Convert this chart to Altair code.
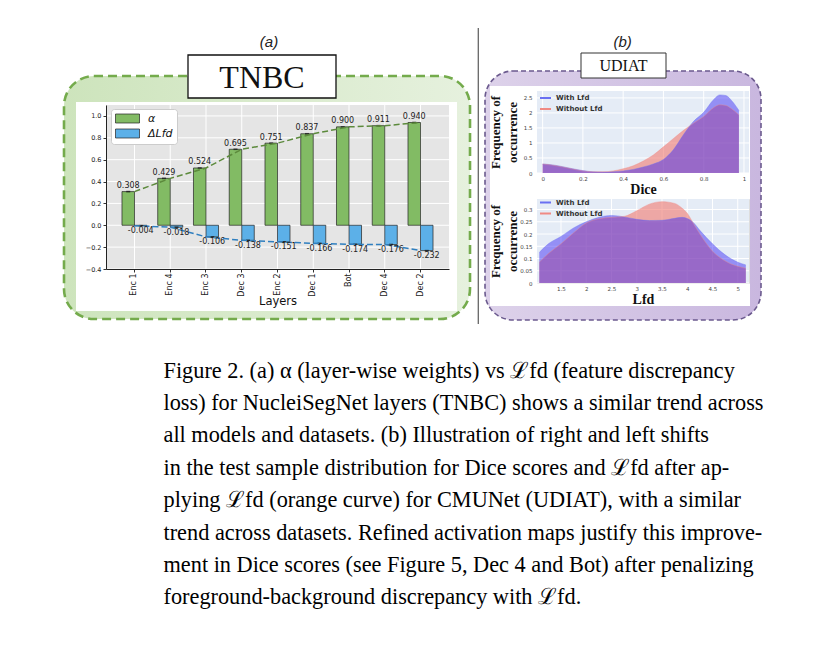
import altair as alt
import pandas as pd

# ---------------- data ----------------
layers = ["Enc 1", "Enc 4", "Enc 3", "Dec 3", "Enc 2", "Dec 1", "Bot", "Dec 4", "Dec 2"]
alpha_vals = [0.308, 0.429, 0.524, 0.695, 0.751, 0.837, 0.900, 0.911, 0.940]
dlfd_vals = [-0.004, -0.018, -0.106, -0.138, -0.151, -0.166, -0.174, -0.176, -0.232]
series_names = ["α", "ΔLfd"]
a_yticks = [-0.4, -0.2, 0.0, 0.2, 0.4, 0.6, 0.8, 1.0]

curve_names = ["With Lfd", "Without Lfd"]
dice_x = [0.0, 0.05, 0.1, 0.15, 0.2, 0.25, 0.3, 0.35, 0.4, 0.45, 0.5, 0.55, 0.6, 0.65, 0.7,
          0.75, 0.8, 0.85, 0.88, 0.91, 0.94, 0.975]
dice_with = [0.30, 0.27, 0.21, 0.14, 0.08, 0.04, 0.03, 0.04, 0.07, 0.12, 0.20, 0.30, 0.45, 0.78,
             1.28, 1.72, 2.02, 2.45, 2.60, 2.58, 2.40, 2.08]
dice_without = [0.30, 0.26, 0.20, 0.13, 0.07, 0.04, 0.04, 0.07, 0.14, 0.24, 0.40, 0.60, 0.87, 1.15,
                1.42, 1.66, 1.88, 2.18, 2.27, 2.25, 2.13, 1.93]
dice_ticks = [0, 0.2, 0.4, 0.6, 0.8, 1]
dice_yticks = [0, 0.5, 1, 1.5, 2, 2.5]

lfd_x = [1.07, 1.25, 1.5, 1.75, 2.0, 2.25, 2.5, 2.75, 3.0, 3.25, 3.5, 3.75, 3.9, 4.0, 4.13,
         4.25, 4.5, 4.75, 5.0, 5.16]
lfd_with = [0.125, 0.16, 0.19, 0.225, 0.25, 0.268, 0.276, 0.27, 0.26, 0.255, 0.256, 0.264, 0.268,
            0.263, 0.245, 0.215, 0.16, 0.115, 0.085, 0.074]
lfd_without = [0.085, 0.12, 0.16, 0.205, 0.245, 0.262, 0.268, 0.272, 0.295, 0.322, 0.332, 0.325,
               0.305, 0.285, 0.24, 0.20, 0.13, 0.09, 0.068, 0.06]
lfd_ticks = [1.5, 2, 2.5, 3, 3.5, 4, 4.5, 5]
lfd_yticks = [0, 0.05, 0.1, 0.15, 0.2, 0.25, 0.3]

caption_lines = [
    "Figure 2.  (a) α (layer-wise weights) vs ℒfd (feature discrepancy",
    "loss) for NucleiSegNet layers (TNBC) shows a similar trend across",
    "all models and datasets.  (b) Illustration of right and left shifts",
    "in the test sample distribution for Dice scores and ℒfd after ap-",
    "plying ℒfd (orange curve) for CMUNet (UDIAT), with a similar",
    "trend across datasets. Refined activation maps justify this improve-",
    "ment in Dice scores (see Figure 5, Dec 4 and Bot) after penalizing",
    "foreground-background discrepancy with ℒfd.",
]

# ---------------- styling ----------------
GREEN = "#82bb64"
BLUE = "#5cb0e8"
GREEN_LINE = "#5c8a3c"
BLUE_LINE = "#2f7fbf"
BLUE_F = "#3120f3"
RED_F = "#f27a70"
LINE_B = "#6a70f2"
LINE_R = "#f08a84"

AX0, AY0, AW, AH = 105, 104, 343, 164
BX0, BY0, BW, BH = 536, 90, 212, 82
CY0, CH = 198, 84

one = alt.Data(values=[{"k": 1}])


def rect(ox, oy, x1, y1, x2, y2, **kw):
    return alt.Chart(one).mark_rect(**kw).encode(
        x=alt.value(x1 - ox), x2=alt.value(x2 - ox),
        y=alt.value(y1 - oy), y2=alt.value(y2 - oy))


def label(ox, oy, x, y, txt, **kw):
    return alt.Chart(one).mark_text(text=txt, **kw).encode(
        x=alt.value(x - ox), y=alt.value(y - oy))


def grad(c1, c2):
    return alt.LinearGradient(gradient="linear", x1=0, x2=1, y1=0, y2=0,
                              stops=[alt.GradientStop(offset=0, color=c1),
                                     alt.GradientStop(offset=1, color=c2)])


# ---------------- panel (a) ----------------
df_a = pd.DataFrame({
    "layer": layers + layers,
    "series": [series_names[0]] * len(layers) + [series_names[1]] * len(layers),
    "value": alpha_vals + dlfd_vals,
})
df_a["label"] = [f"{v:.3f}" for v in df_a["value"]]

ax_x = alt.Axis(title="Layers", labelAngle=270, labelFont="DejaVu Sans", labelFontSize=8,
                labelColor="#222", labelPadding=1, tickSize=3, tickColor="#333",
                domainColor="#222", domainWidth=1, grid=False, zindex=1,
                titleFont="DejaVu Sans", titleFontSize=11.5, titleFontWeight="normal",
                titleColor="#111", titleY=32, titleBaseline="middle")
ax_y = alt.Axis(title=None, values=a_yticks, format=".1f", labelFont="DejaVu Sans",
                labelFontSize=6.5, labelColor="#222", labelPadding=2, tickSize=3,
                tickColor="#333", domainColor="#222", domainWidth=1, grid=False, zindex=1)

X = alt.X("layer:N", sort=layers, scale=alt.Scale(paddingInner=0.3, paddingOuter=0.447), axis=ax_x)
Y = alt.Y("value:Q", scale=alt.Scale(domain=[-0.4, 1.1], nice=False), axis=ax_y)
XO = alt.XOffset("series:N", sort=series_names, scale=alt.Scale(paddingInner=0, paddingOuter=0))

SPACER_H = 10
SPACER_GAP = AY0 - BY0 - SPACER_H

leg_a = alt.Legend(title=None, orient="none", legendX=5, legendY=4 + SPACER_H + SPACER_GAP,
                   padding=4, fillColor="white", strokeColor="#cccccc", cornerRadius=3,
                   symbolType="M-1,-0.9H3.8V0.9H-1Z", symbolSize=100,
                   symbolStrokeColor="#222", symbolStrokeWidth=0.7,
                   labelFont="DejaVu Sans", labelFontSize=11, labelFontStyle="italic",
                   labelColor="#111", labelOffset=22, rowPadding=2, zindex=1)

a_invis = rect(AX0, AY0, 8, 8, 478, 330, opacity=0)
a_frame = rect(AX0, AY0, 63, 75, 469, 318, fill=grad("#cde4bc", "#e6f1de"), stroke="#74ab4c",
               strokeWidth=2.6, strokeDash=[9, 5], cornerRadius=30)
a_white = rect(AX0, AY0, 75, 101, 456, 310, fill="white")
a_box = rect(AX0, AY0, 187, 54, 335, 97, fill="white", stroke="#111", strokeWidth=1.3)
a_box_t = label(AX0, AY0, 261, 77, "TNBC", font="Liberation Serif", fontSize=32,
                baseline="middle", color="#111")
a_tag = label(AX0, AY0, 268, 41, "(a)", font="Liberation Sans", fontSize=15,
              fontStyle="italic", baseline="middle", color="#222")
divider = alt.Chart(one).mark_rule(color="#666", strokeWidth=1.3).encode(
    x=alt.value(477.3 - AX0), y=alt.value(27 - AY0), y2=alt.value(323 - AY0))
a_bg = rect(AX0, AY0, AX0, AY0, AX0 + AW, AY0 + AH, fill="#e5e5e5")

grid_h = alt.Chart(pd.DataFrame({"value": a_yticks})).mark_rule(
    color="white", strokeWidth=1).encode(y=Y)
grid_v = alt.Chart(pd.DataFrame({"layer": layers})).mark_rule(
    color="white", strokeWidth=1).encode(x=X)

bars = alt.Chart(df_a).mark_bar(stroke="#222", strokeWidth=0.7).encode(
    x=X, xOffset=XO, y=Y,
    color=alt.Color("series:N", scale=alt.Scale(domain=series_names, range=[GREEN, BLUE]),
                    legend=leg_a))
caps = alt.Chart(df_a).mark_tick(color="#111", thickness=1.6, size=4).encode(x=X, xOffset=XO, y=Y)
line_g = alt.Chart(df_a).transform_filter(alt.datum.series == series_names[0]).mark_line(
    color=GREEN_LINE, strokeDash=[6, 3], strokeWidth=1.5).encode(x=X, y=Y)
line_b = alt.Chart(df_a).transform_filter(alt.datum.series == series_names[1]).mark_line(
    color=BLUE_LINE, strokeDash=[6, 3], strokeWidth=1.5).encode(x=X, y=Y)
txt_g = alt.Chart(df_a).transform_filter(alt.datum.series == series_names[0]).mark_text(
    font="DejaVu Sans", fontSize=8, color="#222", baseline="bottom", dy=-1.5).encode(
    x=X, xOffset=XO, y=Y, text="label:N")
txt_b = alt.Chart(df_a).transform_filter(alt.datum.series == series_names[1]).mark_text(
    font="DejaVu Sans", fontSize=8, color="#222", baseline="top", dy=1.5).encode(
    x=X, xOffset=XO, y=Y, text="label:N")

plot_a = alt.layer(a_invis, a_frame, a_white, a_box, a_box_t, a_tag, divider, a_bg,
                   grid_h, grid_v, bars, caps, line_g, line_b, txt_g, txt_b).properties(
    width=AW, height=AH)

# small invisible spacer so that panel (a)'s plot sits lower than panel (b)'s first plot
spacer = alt.Chart(one).mark_rect(opacity=0).encode(
    x=alt.value(0), x2=alt.value(1), y=alt.value(0), y2=alt.value(1)).properties(
    width=1, height=SPACER_H)
panel_a = alt.vconcat(spacer, plot_a, spacing=SPACER_GAP, bounds="flush").resolve_scale(
    x="independent", y="independent")


# ---------------- panel (b) ----------------
def kde_panel(xs, ys_with, ys_without, xticks, yticks, xdom, ydom, h, xtitle, legy, decor):
    df = pd.DataFrame({
        "x": xs + xs,
        "density": ys_with + ys_without,
        "curve": [curve_names[0]] * len(xs) + [curve_names[1]] * len(xs),
    })
    axx = alt.Axis(title=xtitle, values=xticks, format="~g", domain=False, ticks=False,
                   labelFont="DejaVu Sans", labelFontSize=5.5, labelColor="#444",
                   labelPadding=3, labelOverlap=False, labelFlush=False, grid=False, zindex=1,
                   titleFont="Liberation Serif", titleFontSize=14, titleFontWeight="bold",
                   titleColor="#111", titleY=16.5, titleBaseline="middle")
    axy = alt.Axis(title=["Frequency of", "occurrence"], values=yticks, format="~g",
                   domain=False, ticks=False, labelFont="DejaVu Sans", labelFontSize=5.5,
                   labelColor="#444", labelPadding=5, labelOverlap=False, grid=False, zindex=1,
                   titleFont="Liberation Serif", titleFontSize=13, titleFontWeight="bold",
                   titleColor="#111", titleLineHeight=17, titleAngle=270,
                   titleX=-37.5, titleY=h / 2, titleBaseline="alphabetic")
    xe = alt.X("x:Q", scale=alt.Scale(domain=xdom, nice=False, zero=False), axis=axx)
    ye = alt.Y("density:Q", scale=alt.Scale(domain=ydom, nice=False), axis=axy)
    leg = alt.Legend(title=None, orient="none", legendX=2, legendY=legy, padding=0,
                     symbolType="stroke", symbolSize=121, symbolStrokeWidth=2,
                     symbolOpacity=1, labelFont="DejaVu Sans", labelFontSize=7,
                     labelFontWeight="bold", labelColor="#333", labelOffset=4,
                     rowPadding=0, zindex=1)
    bg = rect(0, 0, 0, 0, BW, h, fill="#e5ecf6")
    gv = alt.Chart(pd.DataFrame({"x": xticks})).mark_rule(color="white", strokeWidth=1).encode(x=xe)
    gh = alt.Chart(pd.DataFrame({"density": yticks})).mark_rule(color="white", strokeWidth=1).encode(y=ye)
    ar = alt.Chart(df).transform_filter(alt.datum.curve == curve_names[1]).mark_area(
        color=RED_F, opacity=0.6, interpolate="monotone", clip=True).encode(x=xe, y=ye)
    ab = alt.Chart(df).transform_filter(alt.datum.curve == curve_names[0]).mark_area(
        color=BLUE_F, opacity=0.45, interpolate="monotone", clip=True).encode(x=xe, y=ye)
    ln = alt.Chart(df).mark_line(strokeWidth=0.8, opacity=0.5, interpolate="monotone",
                                 clip=True).encode(
        x=xe, y=ye,
        color=alt.Color("curve:N", scale=alt.Scale(domain=curve_names, range=[LINE_B, LINE_R]),
                        legend=leg))
    return alt.layer(*decor, bg, gv, gh, ar, ab, ln).properties(width=BW, height=h)


b_decor = [
    rect(BX0, BY0, 480, 8, 770, 330, opacity=0),
    rect(BX0, BY0, 484, 70, 760, 319, fill=grad("#ddd2ea", "#c9b7df"), stroke="#6b5a8e",
         strokeWidth=1.6, strokeDash=[5, 3], cornerRadius=28),
    rect(BX0, BY0, 489, 85, 749, 305, fill="white"),
    rect(BX0, BY0, 580, 52, 665, 77, fill="white", stroke="#333", strokeWidth=1),
    label(BX0, BY0, 622.5, 65, "UDIAT", font="Liberation Serif", fontSize=16,
          baseline="middle", color="#111"),
    label(BX0, BY0, 621.7, 41, "(b)", font="Liberation Sans", fontSize=15,
          fontStyle="italic", baseline="middle", color="#222"),
]

b_top = kde_panel(dice_x, dice_with, dice_without, dice_ticks, dice_yticks,
                  [-0.028, 1.025], [0, 2.73], BH, "Dice", 0.5, b_decor)
b_bot = kde_panel(lfd_x, lfd_with, lfd_without, lfd_ticks, lfd_yticks,
                  [1.025, 5.223], [0, 0.343], CH, "Lfd", -3, [])

panel_b = alt.vconcat(b_top, b_bot, spacing=CY0 - (BY0 + BH), bounds="flush").resolve_scale(
    x="independent", y="independent", color="independent").resolve_legend(color="independent")

chart = alt.hconcat(panel_a, panel_b, spacing=0).resolve_scale(
    color="independent").resolve_legend(color="independent").properties(
    padding=0,
    title=alt.TitleParams(text=caption_lines, orient="bottom", anchor="start", frame="bounds",
                          font="Liberation Serif", fontSize=22.3, fontWeight="normal",
                          color="black", lineHeight=32.4, offset=28, dx=155, baseline="top"),
).configure_view(strokeWidth=0).configure(background="white")

chart.save("out.html", embed_options={"renderer": "svg", "actions": False})
